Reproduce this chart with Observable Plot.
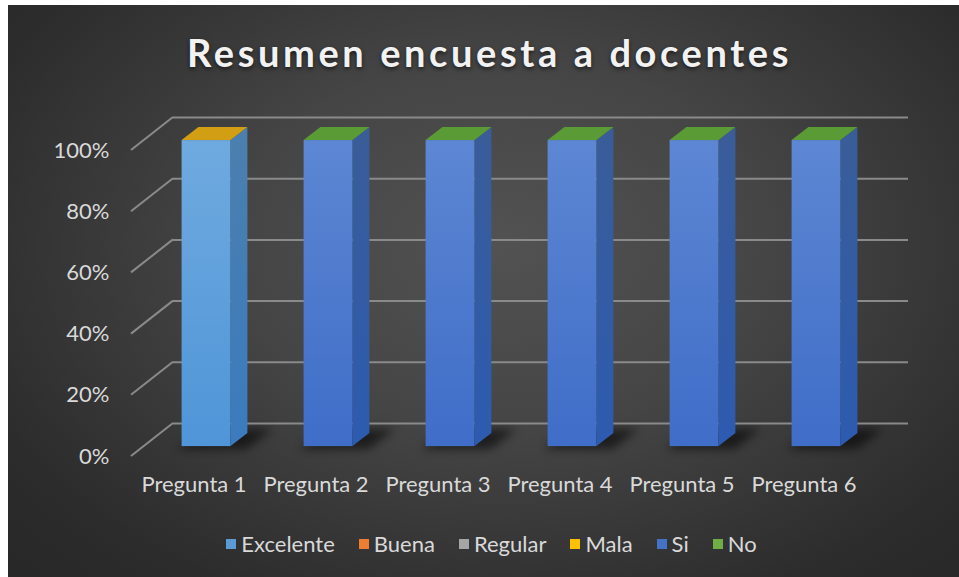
<!DOCTYPE html>
<html>
<head>
<meta charset="utf-8">
<script src="https://cdn.jsdelivr.net/npm/d3@7"></script>
<script src="https://cdn.jsdelivr.net/npm/@observablehq/plot@0.6"></script>
<style>
html, body { margin: 0; padding: 0; background: #ffffff; width: 959px; height: 577px; overflow: hidden; }
#panel { position: absolute; left: 8px; top: 5px; width: 951px; height: 572px;
  background: radial-gradient(ellipse 70% 80% at 52% 42%, #525252 0%, #454545 40%, #2c2c2c 85%, #282828 100%); }
#title { position: absolute; left: 0; top: 29px; width: 959px; box-sizing: border-box; padding-left: 20px;
  text-align: center; font: 700 38px Lato, sans-serif; letter-spacing: 3.6px; color: #f2f2f2;
  text-shadow: 0 2px 4px rgba(0,0,0,0.6); }
#chart { position: absolute; left: 0; top: 95px; }
#legend { position: absolute; left: 0; top: 530px; width: 959px; box-sizing: border-box; padding-left: 24px;
  display: flex; justify-content: center; gap: 24px; font: 400 22px Lato, sans-serif; color: #d9d9d9; }
#legend .item { display: flex; align-items: center; gap: 5px; }
#legend .sw { width: 10px; height: 10px; display: inline-block; }
</style>
</head>
<body>
<div id="panel"></div>
<div id="title">Resumen encuesta a docentes</div>
<div id="chart"></div>
<div id="legend"></div>
<script>
// ---- data ----
const preguntas = ["Pregunta 1", "Pregunta 2", "Pregunta 3", "Pregunta 4", "Pregunta 5", "Pregunta 6"];
const series = ["Excelente", "Buena", "Regular", "Mala", "Si", "No"];
const excelente = [1, null, null, null, null, null];
const buena     = [0, null, null, null, null, null];
const regular   = [0, null, null, null, null, null];
const mala      = [0, null, null, null, null, null];
const si        = [null, 1, 1, 1, 1, 1];
const no        = [null, 0, 0, 0, 0, 0];
const valores = [excelente, buena, regular, mala, si, no];

// ---- styles ----
const baseColors = ["#5B9BD5", "#ED7D31", "#A5A5A5", "#FFC000", "#4472C4", "#70AD47"];
const frontTop    = ["#6faadf", "#f08a48", "#b3b3b3", "#ffc933", "#5d87d3", "#7db85a"];
const frontBottom = ["#4f95d8", "#e07020", "#9a9a9a", "#f0b400", "#3f6dc8", "#64a33e"];
const sideTop     = ["#4b7fae", "#b55d22", "#7f7f7f", "#b88a00", "#3a5d98", "#4c7a30"];
const sideBottom  = ["#3b7bbf", "#a9561c", "#777777", "#aa8000", "#2d5bb0", "#467230"];
const topColors   = ["#79b2e6", "#f29a5e", "#c4c4c4", "#d29f14", "#6d93da", "#5b9b36"];

const FRONT = [12.6, -9.9];   // bar front face depth offset
const BACK  = [29.4, -23.1];  // bar back face depth offset
const WALL  = [42, -33];      // back wall offset

const rows = [];
preguntas.forEach((p, i) => {
  series.forEach((s, k) => {
    const v = valores[k][i];
    if (v != null) rows.push({pregunta: p, serie: s, valor: v});
  });
});

const poly = pts => "M" + pts.map(d => d.join(",")).join("L") + "Z";

function defsAndShadows(index, scales) {
  const {x, y} = scales;
  const bw = typeof x.bandwidth === "function" ? x.bandwidth() : x.bandwidth;
  const g = d3.create("svg:g");
  const defs = g.append("defs");
  const f = defs.append("filter").attr("id", "blur").attr("x", "-50%").attr("y", "-50%").attr("width", "200%").attr("height", "200%");
  f.append("feGaussianBlur").attr("stdDeviation", 5);
  series.forEach((s, k) => {
    const lg = defs.append("linearGradient").attr("id", "front" + k).attr("x1", 0).attr("y1", 0).attr("x2", 0).attr("y2", 1);
    lg.append("stop").attr("offset", "0%").attr("stop-color", frontTop[k]);
    lg.append("stop").attr("offset", "100%").attr("stop-color", frontBottom[k]);
    const sg = defs.append("linearGradient").attr("id", "side" + k).attr("x1", 0).attr("y1", 0).attr("x2", 0).attr("y2", 1);
    sg.append("stop").attr("offset", "0%").attr("stop-color", sideTop[k]);
    sg.append("stop").attr("offset", "100%").attr("stop-color", sideBottom[k]);
  });
  preguntas.forEach(p => {
    const x0 = x(p) + FRONT[0], y0 = y(0) + FRONT[1];
    g.append("path")
      .attr("d", poly([[x0 - 4, y0 + 3], [x0 + bw + 16, y0 + 3], [x0 + bw + 42, y0 - 17], [x0 + 22, y0 - 17]]))
      .attr("fill", "#000").attr("opacity", 0.55).attr("filter", "url(#blur)");
  });
  return g.node();
}

function diagonals(index, scales, values, dimensions) {
  const {y} = scales;
  const x0 = dimensions.marginLeft;
  const g = d3.create("svg:g").attr("stroke", "#8a8a8a").attr("stroke-width", 2);
  y.ticks(5).forEach(t => {
    g.append("line").attr("x1", x0).attr("y1", y(t)).attr("x2", x0 + WALL[0]).attr("y2", y(t) + WALL[1]);
  });
  return g.node();
}

function sidesAndTops(index, scales) {
  const {x, y} = scales;
  const bw = typeof x.bandwidth === "function" ? x.bandwidth() : x.bandwidth;
  const g = d3.create("svg:g");
  const dx = BACK[0] - FRONT[0], dy = BACK[1] - FRONT[1];
  preguntas.forEach((p, i) => {
    const left = x(p) + FRONT[0], right = left + bw;
    let cum = 0, topK = -1;
    series.forEach((s, k) => {
      const v = valores[k][i];
      if (v == null) return;
      const yb = y(cum) + FRONT[1], yt = y(cum + v) + FRONT[1];
      if (v > 0) {
        g.append("path").attr("d", poly([[right, yt], [right + dx, yt + dy], [right + dx, yb + dy], [right, yb]]))
          .attr("fill", `url(#side${k})`);
      }
      cum += v;
      topK = k;
    });
    if (topK >= 0) {
      const yt = y(cum) + FRONT[1];
      g.append("path").attr("d", poly([[left, yt], [left + dx, yt + dy], [right + dx, yt + dy], [right, yt]]))
        .attr("fill", topColors[topK]);
    }
  });
  return g.node();
}

const chart = Plot.plot({
  width: 959,
  height: 415,
  marginLeft: 131,
  marginRight: 93,
  marginTop: 55,
  marginBottom: 54,
  style: {background: "transparent", color: "#d9d9d9", fontSize: "22px", fontFamily: "Lato, sans-serif", overflow: "visible"},
  x: {domain: preguntas, paddingInner: 0.6, paddingOuter: 0.3, tickSize: 0, tickPadding: 20, label: null},
  y: {domain: [0, 1], ticks: 5, tickFormat: d => `${Math.round(d * 100)}%`, tickSize: 0, tickPadding: 22, label: null},
  color: {type: "ordinal", domain: series, range: series.map((s, k) => `url(#front${k})`)},
  marks: [
    defsAndShadows,
    Plot.ruleY(d3.ticks(0, 1, 5), {stroke: "#8a8a8a", strokeWidth: 2, dx: WALL[0], dy: WALL[1]}),
    diagonals,
    Plot.barY(rows, Plot.stackY({x: "pregunta", y: "valor", fill: "serie", dx: FRONT[0], dy: FRONT[1]})),
    sidesAndTops
  ]
});
document.getElementById("chart").appendChild(chart);

const legend = d3.select("#legend");
series.forEach((s, k) => {
  const it = legend.append("span").attr("class", "item");
  it.append("span").attr("class", "sw").style("background", baseColors[k]);
  it.append("span").text(s);
});
</script>
</body>
</html>
